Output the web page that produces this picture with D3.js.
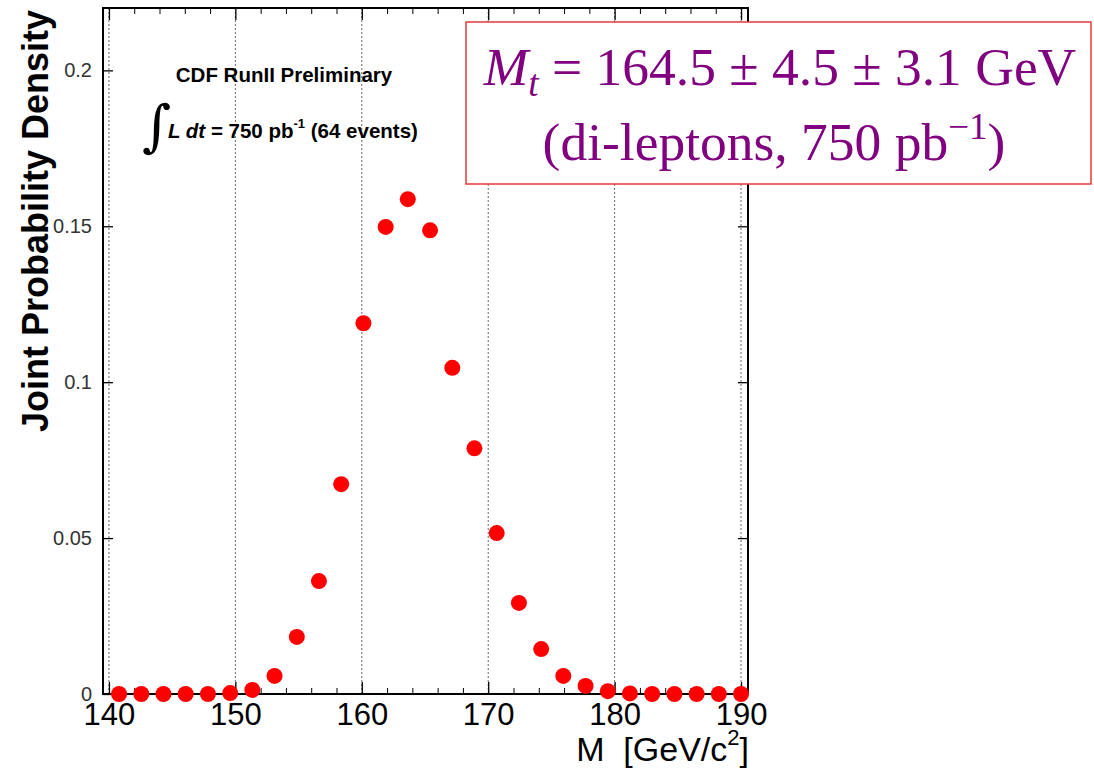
<!DOCTYPE html>
<html>
<head>
<meta charset="utf-8">
<script src="https://cdn.jsdelivr.net/npm/d3@7"></script>
<style>
  html, body { margin: 0; padding: 0; background: #fff; }
  svg { display: block; }
</style>
</head>
<body>
<svg id="chart" width="1094" height="770"></svg>
<script>
// Top-quark mass likelihood, di-lepton channel
const massValues = [140.80, 142.56, 144.31, 146.07, 147.83, 149.59, 151.34, 153.10, 154.86, 156.61,
                    158.37, 160.13, 161.89, 163.64, 165.40, 167.16, 168.91, 170.67, 172.43, 174.19,
                    175.94, 177.70, 179.46, 181.21, 182.97, 184.73, 186.49, 188.24, 190.00];
const densityValues = [0, 0, 0, 0, 0, 0.0003, 0.0013, 0.0058, 0.0183, 0.0362,
                       0.0673, 0.1189, 0.1498, 0.1587, 0.1487, 0.1046, 0.0788, 0.0516, 0.0292, 0.0144,
                       0.0058, 0.0026, 0.0009, 0.0002, 0, 0, 0, 0, 0];

const xMajorTicks = [140, 150, 160, 170, 180, 190];
const xMinorTicks = [142, 144, 146, 148, 152, 154, 156, 158, 162, 164, 166, 168, 172, 174, 176, 178, 182, 184, 186, 188];
const xTickLabels = ["140", "150", "160", "170", "180", "190"];
const yMajorTicks = [0, 0.05, 0.1, 0.15, 0.2];
const yTickLabels = ["0", "0.05", "0.1", "0.15", "0.2"];

const svg = d3.select("#chart");
const frame = { left: 103, top: 8, right: 748, bottom: 694 };

const x = d3.scaleLinear().domain([139.53, 190.55]).range([frame.left, frame.right]);
const y = d3.scaleLinear().domain([0, 0.22]).range([frame.bottom, frame.top]);

const sans = "'Liberation Sans', Arial, Helvetica, sans-serif";
const serif = "'Liberation Serif', 'Times New Roman', Times, serif";

// vertical dotted grid at major x ticks
svg.append("g").selectAll("line").data(xMajorTicks).join("line")
  .attr("x1", d => x(d)).attr("x2", d => x(d))
  .attr("y1", frame.top).attr("y2", frame.bottom)
  .attr("stroke", "#666").attr("stroke-width", 1).attr("stroke-dasharray", "2,2");

// bottom axis: major ticks with labels
const xAxis = svg.append("g").attr("transform", `translate(0,${frame.bottom})`)
  .call(d3.axisBottom(x).tickValues(xMajorTicks).tickSize(-12).tickPadding(9)
        .tickFormat((d, i) => xTickLabels[i]));
xAxis.select(".domain").remove();
xAxis.selectAll("text").attr("font-family", sans).attr("font-size", 31).attr("fill", "#000");
xAxis.selectAll("line").attr("stroke", "#000").attr("stroke-width", 1.3);

// bottom axis minor ticks
svg.append("g").attr("transform", `translate(0,${frame.bottom})`)
  .call(d3.axisBottom(x).tickValues(xMinorTicks).tickSize(-6).tickFormat(""))
  .call(g => g.select(".domain").remove())
  .selectAll("line").attr("stroke", "#000").attr("stroke-width", 1);

// top frame ticks
svg.append("g").attr("transform", `translate(0,${frame.top})`)
  .call(d3.axisTop(x).tickValues(xMajorTicks).tickSize(-12).tickFormat(""))
  .call(g => g.select(".domain").remove())
  .selectAll("line").attr("stroke", "#000").attr("stroke-width", 1.3);
svg.append("g").attr("transform", `translate(0,${frame.top})`)
  .call(d3.axisTop(x).tickValues(xMinorTicks).tickSize(-6).tickFormat(""))
  .call(g => g.select(".domain").remove())
  .selectAll("line").attr("stroke", "#000").attr("stroke-width", 1);

// left axis
const yAxis = svg.append("g").attr("transform", `translate(${frame.left},0)`)
  .call(d3.axisLeft(y).tickValues(yMajorTicks).tickSize(-10).tickPadding(11)
        .tickFormat((d, i) => yTickLabels[i]));
yAxis.select(".domain").remove();
yAxis.selectAll("text").attr("font-family", sans).attr("font-size", 20).attr("fill", "#333");
yAxis.selectAll("line").attr("stroke", "#000").attr("stroke-width", 1.3);

// right frame ticks
svg.append("g").attr("transform", `translate(${frame.right},0)`)
  .call(d3.axisRight(y).tickValues(yMajorTicks).tickSize(-10).tickFormat(""))
  .call(g => g.select(".domain").remove())
  .selectAll("line").attr("stroke", "#000").attr("stroke-width", 1.3);

// frame
svg.append("rect")
  .attr("x", frame.left).attr("y", frame.top)
  .attr("width", frame.right - frame.left).attr("height", frame.bottom - frame.top)
  .attr("fill", "none").attr("stroke", "#000").attr("stroke-width", 2);

// data points
svg.append("g").selectAll("circle").data(massValues.map((m, i) => [m, densityValues[i]])).join("circle")
  .attr("cx", d => x(d[0])).attr("cy", d => y(d[1])).attr("r", 8)
  .attr("fill", "#f00");

// axis titles
svg.append("text")
  .attr("transform", "translate(48,221) rotate(-90)")
  .attr("text-anchor", "middle")
  .attr("font-family", sans).attr("font-weight", "bold").attr("font-size", 36)
  .text("Joint Probability Density");

const xTitle = svg.append("text")
  .attr("x", 749).attr("y", 761).attr("text-anchor", "end")
  .style("white-space", "pre")
  .attr("font-family", sans).attr("font-size", 34);
xTitle.append("tspan").text("M  [GeV/c");
xTitle.append("tspan").attr("dy", -16).attr("font-size", 22).text("2");
xTitle.append("tspan").attr("dy", 16).text("]");

// experiment label
svg.append("text")
  .attr("x", 284).attr("y", 82).attr("text-anchor", "middle")
  .attr("font-family", sans).attr("font-weight", "bold").attr("font-size", 20.5)
  .text("CDF RunII Preliminary");

svg.append("text")
  .attr("x", 142).attr("y", 145)
  .attr("font-family", "'DejaVu Serif', serif").attr("font-size", 56)
  .text("∫");

const lumi = svg.append("text")
  .attr("x", 168).attr("y", 138)
  .style("white-space", "pre")
  .attr("font-family", sans).attr("font-weight", "bold").attr("font-size", 20.5);
lumi.append("tspan").attr("font-style", "italic").text("L dt");
lumi.append("tspan").text(" = 750 pb");
lumi.append("tspan").attr("dy", -10).attr("font-size", 13).text("-1");
lumi.append("tspan").attr("dy", 10).text(" (64 events)");

// result box
svg.append("rect")
  .attr("x", 466).attr("y", 22).attr("width", 625).attr("height", 162)
  .attr("fill", "#fff").attr("stroke", "#e8383a").attr("stroke-width", 1.5);

const line1 = svg.append("text")
  .attr("x", 780).attr("y", 85).attr("text-anchor", "middle")
  .attr("font-family", serif).attr("font-size", 53.5).attr("fill", "#800080");
line1.append("tspan").attr("font-style", "italic").text("M");
line1.append("tspan").attr("font-style", "italic").attr("font-size", 37).attr("dy", 11).text("t");
line1.append("tspan").attr("dy", -11).text(" = 164.5 ± 4.5 ± 3.1 GeV");

const line2 = svg.append("text")
  .attr("x", 774).attr("y", 160).attr("text-anchor", "middle")
  .attr("font-family", serif).attr("font-size", 53.5).attr("fill", "#800080");
line2.append("tspan").text("(di-leptons, 750 pb");
line2.append("tspan").attr("font-size", 37).attr("dy", -21).text("−1");
line2.append("tspan").attr("dy", 21).text(")");
</script>
</body>
</html>
